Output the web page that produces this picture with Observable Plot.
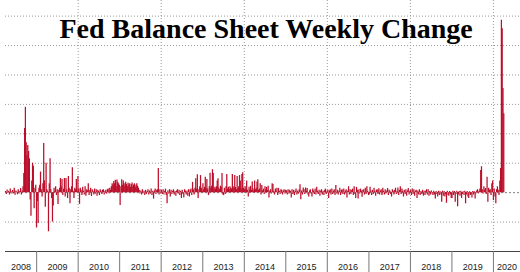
<!DOCTYPE html>
<html><head><meta charset="utf-8">
<script src="https://cdn.jsdelivr.net/npm/d3@7"></script>
<script src="https://cdn.jsdelivr.net/npm/@observablehq/plot@0.6"></script>
<style>body{margin:0;background:#fff}</style>
</head><body><div id="chart"></div>
<script>
const title = "Fed Balance Sheet Weekly Change";
const seriesStart = "2008-04-02";
const domainEnd = "2020-08-26";
// weekly change, $bn, one value per Wednesday
const v2008 = [4,-6,9,-3,5,-8,12,3,-5,7,-4,15,-9,6,2,-7,10,-5,4,14,-8,6,20,65,218,290,170,125,160,140,115,-25,-80,40,100,90,-55,15,25,-120];
const v2009 = [-30,-105,15,25,70,10,-15,30,167,40,-50,100,10,5,-133,30,115,10,-20,-100,-45,15,5,20,-10,10,-40,8,15,48,20,45,-10,12,48,-15,48,10,-20,55,15,-38,10,20,85,5,-20,15,10,45,5,55];
const v2010 = [12,-40,15,8,-10,18,5,-8,20,-12,10,6,30,-10,8,15,-13,10,5,-8,12,-5,10,-12,8,4,-10,10,6,-6,8,10,-8,5,8,-5,10,12,-4,15,8,20,30,25,38,30,42,20,43,35,30,25];
const v2011 = [-44,20,44,25,40,30,22,35,28,20,32,25,30,18,28,33,20,26,30,18,25,30,22,15,8,-5,6,-8,10,-4,5,-10,8,-6,4,10,-8,6,-5,12,-10,5,-22,6,12,-6,8,10,82,-8,10,-5];
const v2012 = [8,-6,10,-8,5,12,-10,-38,6,-5,10,-15,8,-6,5,10,-8,4,-12,6,10,-5,8,-10,5,-20,8,-6,-18,10,5,-8,6,-12,10,-15,8,12,-10,35,10,-8,15,47,12,61,-20,10,20,58,15,5];
const v2013 = [30,10,18,52,15,45,12,-10,20,66,15,22,78,65,10,18,12,20,40,47,15,10,22,18,65,-8,-10,15,-6,20,62,12,18,10,20,15,12,62,20,15,58,18,10,55,14,20,58,40,12,62,68,15];
const v2014 = [10,20,12,40,8,-15,18,10,22,8,36,12,5,40,10,15,36,44,8,12,30,-8,24,6,12,-6,20,10,18,8,22,-18,6,10,-5,30,28,5,-8,12,4,15,-10,14,5,-6,10,8,-8,6,10,-5,8];
const v2015 = [6,-8,10,-5,8,4,-18,10,-6,8,-10,5,12,-8,6,-5,10,27,-24,6,-8,16,10,-6,16,5,14,-8,-15,6,10,-5,-15,12,6,-6,12,-8,18,5,-6,8,-12,6,10,-8,5,-10,8,12,-6,5];
const v2016 = [8,-20,6,10,-8,12,-6,5,10,-10,24,-5,8,-8,6,15,-10,8,10,-6,12,-8,5,10,-18,6,20,-8,10,-6,8,12,-10,20,-6,-20,18,8,-22,10,-5,12,6,-16,8,10,-8,15,-6,20,5,-10];
const v2017 = [-8,18,6,-10,8,-6,15,5,-12,8,10,-6,13,-8,6,10,-10,15,5,-8,10,-5,6,14,-10,8,5,-6,-15,10,6,-8,8,15,-6,5,16,-10,8,20,-6,12,5,-15,8,-6,10,-12,6,14,-8,5];
const v2018 = [8,-10,12,-6,10,-12,5,8,-20,6,-8,10,-10,4,-6,8,-12,5,-10,6,10,-8,10,-12,4,-8,6,-5,-10,5,-8,-22,4,-6,-15,5,-10,3,-8,-33,5,-12,4,-15,-6,-36,5,-10,-12,4,-8,-20];
const v2019 = [-20,5,-10,4,-33,-6,5,-48,-8,4,-12,5,-20,-6,3,-10,5,-38,-8,4,-15,-20,3,-10,-6,-18,4,-8,3,-22,-5,6,10,-4,5,12,75,88,10,-5,20,8,14,-6,52,-33,15,8,10,-10,30,40];
const v2020 = [-27,12,-15,-38,10,20,8,-10,40,82,586,557,354,268];
const years = [2008,2009,2010,2011,2012,2013,2014,2015,2016,2017,2018,2019,2020];
const weeklyByYear = [v2008,v2009,v2010,v2011,v2012,v2013,v2014,v2015,v2016,v2017,v2018,v2019,v2020];
const gridValues = [-100,100,200,300,400,500,600];
const gridYears = [2010,2012,2014,2016,2018,2020];

const rows = [];
weeklyByYear.forEach((vals, k) => {
  const first = k === 0 ? new Date(seriesStart) : d3.utcWednesday.ceil(new Date(Date.UTC(years[k], 0, 1)));
  vals.forEach((v, i) => rows.push({date: d3.utcWeek.offset(first, i), value: v}));
});
const d0 = new Date(seriesStart), d1 = new Date(domainEnd);
const yearStarts = years.slice(1).map(y => new Date(Date.UTC(y, 0, 1)));
const labelDates = years.map(y => {
  const s = Math.max(+new Date(Date.UTC(y, 0, 1)), +d0);
  const e = Math.min(+new Date(Date.UTC(y + 1, 0, 1)), +d1);
  return new Date((s + e) / 2);
});

const chart = Plot.plot({
  width: 520, height: 272,
  marginLeft: 5, marginRight: 0, marginTop: 0, marginBottom: 21,
  style: {fontFamily: "'Liberation Sans', Arial, sans-serif", fontSize: "9px", background: "#fff", color: "#222"},
  x: {type: "utc", domain: [d0, d1], label: null},
  y: {domain: [-200, 653], axis: null},
  marks: [
    Plot.ruleY(gridValues, {stroke: "#9a9a9a", strokeDasharray: "1,2"}),
    Plot.ruleX(gridYears.map(y => new Date(Date.UTC(y, 0, 1))), {stroke: "#9a9a9a", strokeDasharray: "1,2"}),
    Plot.ruleY([0], {stroke: "#808080", strokeDasharray: "2,2"}),
    Plot.ruleX(rows, {x: "date", y1: 0, y2: "value", stroke: "#bb0f2b", strokeWidth: 1.25}),
    Plot.ruleY([-200], {stroke: "#444"}),
    Plot.axisX({ticks: yearStarts, tickSize: 21, tickFormat: () => "", stroke: "#777", label: null}),
    Plot.axisX({ticks: labelDates, tickSize: 0, tickPadding: 12, tickFormat: d => String(d.getUTCFullYear() + (d.getUTCMonth() === 11 && d.getUTCDate() > 25 ? 1 : 0)), fill: "#222", label: null}),
    Plot.text([title], {text: d => d, frameAnchor: "top-left", dx: 54, dy: 37, lineAnchor: "bottom", textAnchor: "start",
      fontFamily: "'Liberation Serif', 'Times New Roman', serif", fontWeight: "bold", fontSize: 28, fill: "#000"})
  ]
});
document.getElementById("chart").append(chart);
</script>
</body></html>
